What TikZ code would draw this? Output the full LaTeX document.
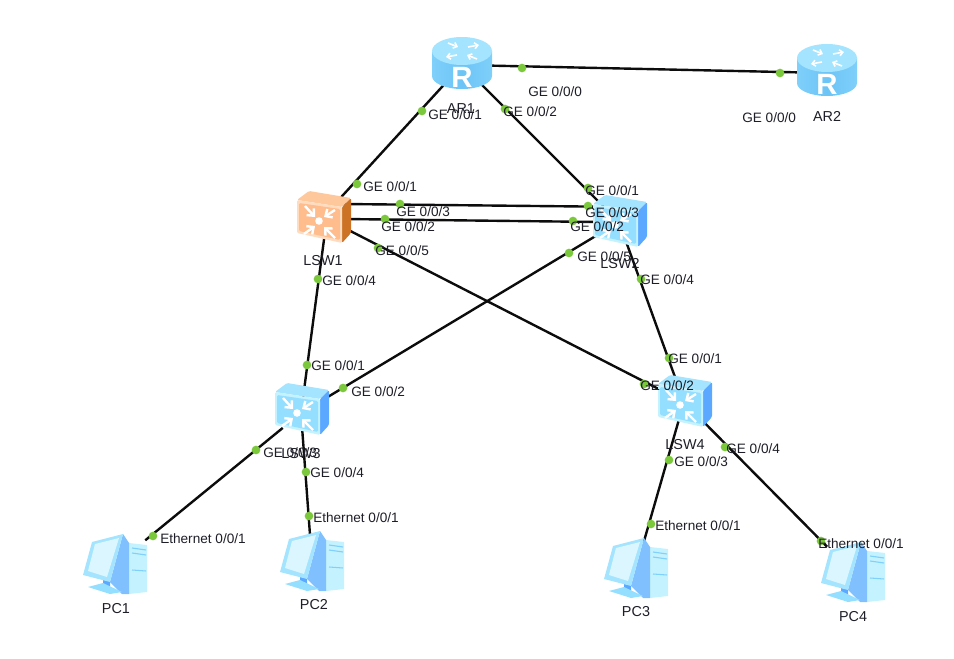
\documentclass[tikz,border=0pt]{standalone}
\usepackage{fontspec}
\setmainfont{Liberation Sans}
\usetikzlibrary{arrows.meta}
\definecolor{linkcol}{HTML}{0C0C0C}
\definecolor{dotcol}{HTML}{7CC83C}
\definecolor{textcol}{HTML}{1E1E28}
\definecolor{skyedge}{HTML}{7FD0FA}
\definecolor{skymid}{HTML}{6CC4F6}
\definecolor{skytop}{HTML}{A4E4FE}
\definecolor{skyface}{HTML}{94DEFF}
\definecolor{skyrim}{HTML}{C4F2FF}
\definecolor{skyside}{HTML}{5AA8FF}
\definecolor{skyhost}{HTML}{80C0FF}
\definecolor{skyscreen}{HTML}{DCF6FF}
\definecolor{peachface}{HTML}{FFBC8C}
\definecolor{peachrim}{HTML}{FFDCC0}
\definecolor{peachtop}{HTML}{FFC89C}
\definecolor{peachside}{HTML}{CC7224}
\tikzstyle{device}=[rectangle,inner sep=0pt,minimum width=30pt,minimum height=22pt]
\tikzstyle{host}=[rectangle,inner sep=0pt,minimum width=45pt,minimum height=39pt]
\tikzstyle{link}=[line width=1.8pt,draw=linkcol]
\tikzstyle{dot}=[circle,fill=dotcol,inner sep=0pt,minimum size=6.5pt]
\tikzstyle{portname}=[anchor=west,inner sep=0pt,font=\fontsize{10.2}{12}\selectfont,text=textcol]
\tikzstyle{devname}=[inner sep=0pt,font=\fontsize{10.8}{12}\selectfont,text=textcol]
\tikzstyle{sym}=[white,line width=1.8pt,-{Straight Barb[length=4pt,width=7.5pt]}]
\tikzstyle{smallsym}=[white,line width=1.2pt,-{Straight Barb[length=2.5pt,width=4.5pt]}]
\newcommand{\switchbody}[4]{
    \path[fill=#2,rounded corners=1pt] (-26,-17) -- (-14,-26) -- (28,-19) -- (19,-10) -- cycle;
    \path[fill=#3,rounded corners=1pt] (19,-10) -- (28,-19) -- (28,16) -- (19,26) -- cycle;
    \path[fill=#4,rounded corners=1pt] (-26,-17) -- (19,-10) -- (19,26) -- (-26,16) -- cycle;
    \path[fill=#1,rounded corners=1pt] (-24,-14) -- (17,-8) -- (17,23) -- (-24,14) -- cycle;
    \fill[white] (-4,4) circle (3.8);
    \draw[sym] (-18,-11) -- (-8,0);
    \draw[sym] (12,-7) -- (1,0);
    \draw[sym] (-19,17) -- (-8,9);
    \draw[sym] (12,21) -- (1,10);
}
\tikzset{
    blueswitch/.pic={\switchbody{skyface}{skytop}{skyside}{skyrim}},
    orangeswitch/.pic={\switchbody{peachface}{peachtop}{peachside}{peachrim}},
    router/.pic={
        \path[left color=skyedge,right color=skyedge,middle color=skymid,shading angle=90]
            (-30,-14) -- (-30,11) arc[start angle=180,end angle=0,x radius=30,y radius=13] -- (30,-14) -- cycle;
        \path[fill=skytop] (0,-14) ellipse[x radius=30,y radius=14];
        \draw[smallsym] (-5,-10) -- (-16,-8);
        \draw[smallsym] (6,-18) -- (17,-20);
        \draw[smallsym] (-14,-22) -- (-4,-18);
        \draw[smallsym] (15,-6) -- (5,-10);
        \node[inner sep=0pt,text=white,font=\bfseries\fontsize{22}{22}\selectfont] (letter) at (0,12) {R};
    },
    hosticon/.pic={
        % tower
        \path[fill=skyrim] (14,-22) -- (32,-20) -- (32,27) -- (14,29) -- cycle;
        \path[fill=skyhost] (8,-31) -- (14,-22) -- (14,29) -- (7,29) -- (-5,17) -- cycle;
        \draw[skyedge,line width=.8pt] (17,-17) -- (31,-15) (17,-12) -- (31,-10) (17,5) -- (31,6);
        % stand
        \path[fill=skyside] (-12,12) -- (-5,15) -- (-5,24) -- (-12,20) -- cycle;
        \path[fill=skyface] (-27,22) -- (-12,18) -- (7,27) -- (-5,29) -- cycle;
        % monitor
        \path[fill=skytop] (8,-31) -- (-23,-23) -- (-32,10) -- (-5,17) -- cycle;
        \path[fill=skyscreen] (4,-27) -- (-20,-21) -- (-27,6) -- (-8,12) -- cycle;
    }
}
\begin{document}
\begin{tikzpicture}[x=0.75pt,y=-0.75pt]
    \useasboundingbox (0,0) rectangle (954,659);

    \node[device] (AR1) at (462,65) {};
    \node[device] (AR2) at (827,73) {};
    \node[device] (LSW1) at (323,217) {};
    \node[device] (LSW2) at (619,222) {};
    \node[device] (LSW3) at (301,413) {};
    \node[device] (LSW4) at (684,402) {};
    \node[host] (PC1) at (115,565) {};
    \node[host] (PC2) at (312,562) {};
    \node[host] (PC3) at (636,569) {};
    \node[host] (PC4) at (853,573) {};

    % LINKS

    \path[link] (AR1) edge (AR2);
    \path[link] (AR1) edge (LSW1);
    \path[link] (AR1) edge (LSW2);
    \path[link] ([yshift=9.75pt]LSW1.east) edge ([yshift=11.5pt]LSW2.west);
    \path[link] ([yshift=-1.5pt]LSW1.east) edge (LSW2.west);
    \path[link] (LSW1) edge (LSW4);
    \path[link] (LSW2) edge (LSW3);
    \path[link] (LSW2) edge (LSW4);
    \path[link] ([xshift=3pt]LSW1.center) edge (LSW3);
    \path[link] (LSW3) edge (PC1);
    \path[link] (LSW3) edge (PC2);
    \path[link] (LSW4) edge (PC3);
    \path[link] (LSW4) edge (PC4);

    % ICONS

    \pic at (462,65) {router};
    \pic at (827,72) {router};
    \pic at (323,217) {orangeswitch};
    \pic at (619,221) {blueswitch};
    \pic at (301,409) {blueswitch};
    \pic at (684,401) {blueswitch};
    \pic at (115,565) {hosticon};
    \pic at (312,562) {hosticon};
    \pic at (636,569) {hosticon};
    \pic at (853,573) {hosticon};

    \node[devname] (nameAR1) at (461,109) {AR1};
    \node[devname] (nameAR2) at (827,116) {AR2};
    \node[devname] (nameLSW1) at (323,261) {LSW1};
    \node[devname] (nameLSW2) at (620,264) {LSW2};
    \node[devname] (nameLSW3) at (301,454) {LSW3};
    \node[devname] (nameLSW4) at (685,445) {LSW4};
    \node[devname] (namePC1) at (116,609) {PC1};
    \node[devname] (namePC2) at (314,605) {PC2};
    \node[devname] (namePC3) at (636,612) {PC3};
    \node[devname] (namePC4) at (853,617) {PC4};

    % AR PORTS

    \node[dot] (d1) at (522,68) {};
    \node[portname] (n1) at (528,92) {GE 0/0/0};
    \node[dot] (d2) at (780,73) {};
    \node[portname] (n2) at (742,118) {GE 0/0/0};
    \node[dot] (d3) at (422,111) {};
    \node[portname] (n3) at (428,115) {GE 0/0/1};
    \node[dot] (d4) at (505,109) {};
    \node[portname] (n4) at (503,112) {GE 0/0/2};

    % LSW1 PORTS

    \node[dot] (d5) at (357,184) {};
    \node[portname] (n5) at (363,187) {GE 0/0/1};
    \node[dot] (d6) at (400,204) {};
    \node[portname] (n6) at (396,212) {GE 0/0/3};
    \node[dot] (d7) at (385,219) {};
    \node[portname] (n7) at (381,227) {GE 0/0/2};
    \node[dot] (d8) at (378,248) {};
    \node[portname] (n8) at (375,251) {GE 0/0/5};
    \node[dot] (d9) at (318,279) {};
    \node[portname] (n9) at (322,281) {GE 0/0/4};

    % LSW2 PORTS

    \node[dot] (d10) at (588,188) {};
    \node[portname] (n10) at (585,191) {GE 0/0/1};
    \node[dot] (d11) at (588,206) {};
    \node[portname] (n11) at (585,213) {GE 0/0/3};
    \node[dot] (d12) at (573,221) {};
    \node[portname] (n12) at (570,227) {GE 0/0/2};
    \node[dot] (d13) at (569,253) {};
    \node[portname] (n13) at (577,257) {GE 0/0/5};
    \node[dot] (d14) at (641,279) {};
    \node[portname] (n14) at (640,280) {GE 0/0/4};

    % LSW3 PORTS

    \node[dot] (d15) at (307,365) {};
    \node[portname] (n15) at (311,366) {GE 0/0/1};
    \node[dot] (d16) at (343,388) {};
    \node[portname] (n16) at (351,392) {GE 0/0/2};
    \node[dot] (d17) at (256,450) {};
    \node[portname] (n17) at (263,453) {GE 0/0/3};
    \node[dot] (d18) at (306,472) {};
    \node[portname] (n18) at (310,473) {GE 0/0/4};

    % LSW4 PORTS

    \node[dot] (d19) at (669,358) {};
    \node[portname] (n19) at (668,359) {GE 0/0/1};
    \node[dot] (d20) at (644,384) {};
    \node[portname] (n20) at (640,386) {GE 0/0/2};
    \node[dot] (d21) at (669,460) {};
    \node[portname] (n21) at (674,462) {GE 0/0/3};
    \node[dot] (d22) at (725,447) {};
    \node[portname] (n22) at (726,449) {GE 0/0/4};

    % PC PORTS

    \node[dot] (d23) at (153,536) {};
    \node[portname] (n23) at (160,539) {Ethernet 0/0/1};
    \node[dot] (d24) at (309,516) {};
    \node[portname] (n24) at (313,518) {Ethernet 0/0/1};
    \node[dot] (d25) at (651,524) {};
    \node[portname] (n25) at (655,526) {Ethernet 0/0/1};
    \node[dot] (d26) at (821,541) {};
    \node[portname] (n26) at (818,544) {Ethernet 0/0/1};

\end{tikzpicture}
\end{document}
